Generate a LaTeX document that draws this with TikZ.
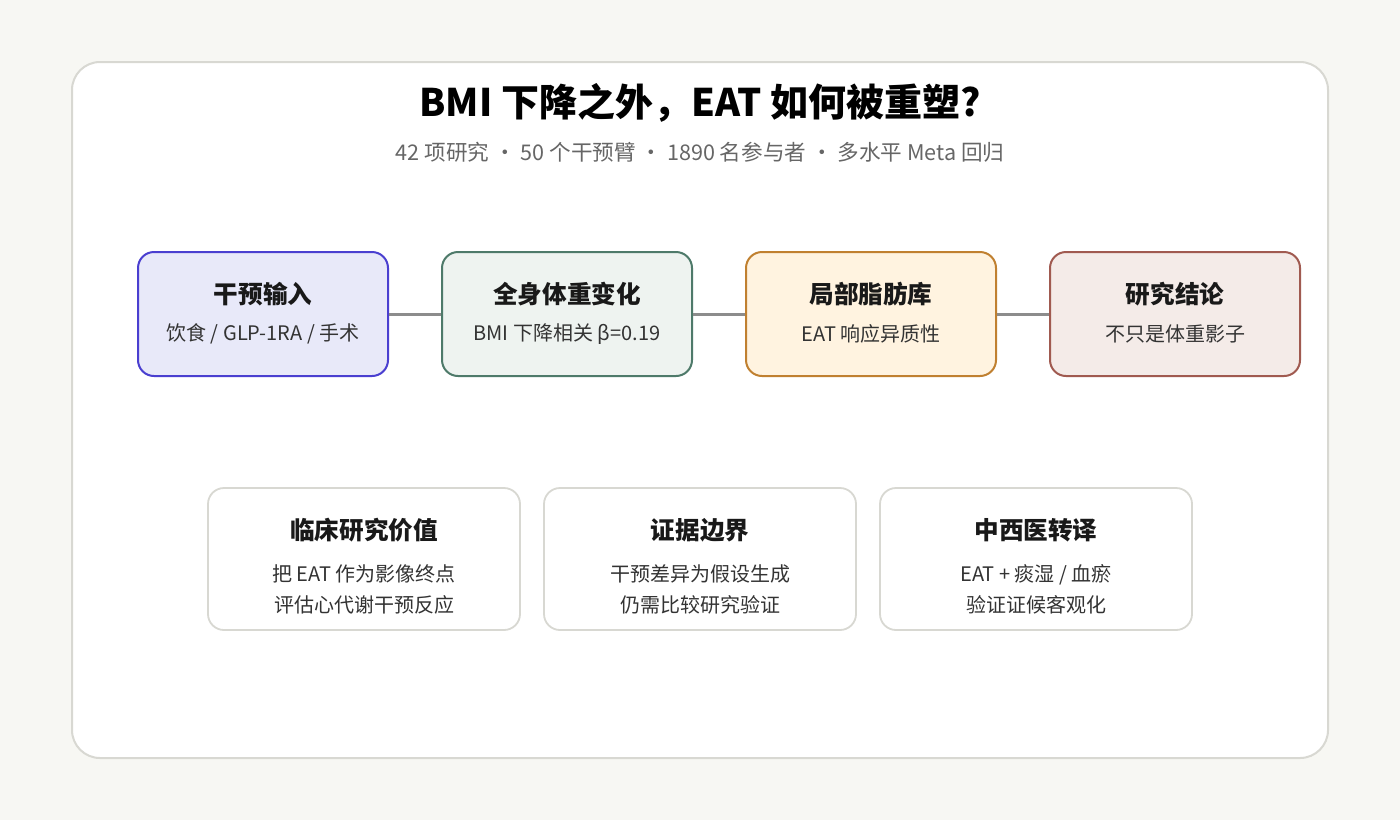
\documentclass[tikz,border=0pt]{standalone}
\usepackage{fontspec}
\setmainfont{Noto Sans CJK SC}
\usetikzlibrary{positioning}
\definecolor{bgc}{HTML}{F7F7F3}
\definecolor{cardline}{HTML}{D8D8D2}
\definecolor{subc}{HTML}{666666}
\definecolor{txtc}{HTML}{333333}
\definecolor{conc}{HTML}{8C8C8C}
\definecolor{fa}{HTML}{E8E9F9}\definecolor{da}{HTML}{4A3FD0}
\definecolor{fb}{HTML}{EEF3F0}\definecolor{db}{HTML}{4E7A6A}
\definecolor{fc}{HTML}{FFF3E0}\definecolor{dc}{HTML}{C08030}
\definecolor{fd}{HTML}{F4EBE8}\definecolor{dd}{HTML}{A05A50}
\begin{document}
\begin{tikzpicture}[x=0.5pt,y=-0.5pt,
  step box/.style={draw,line width=1pt,rounded corners=8pt,minimum width=125pt,minimum height=62pt},
  note box/.style={draw=cardline,fill=white,line width=0.9pt,rounded corners=8pt,minimum width=156pt,minimum height=71pt},
  head/.style={font=\fontsize{12.3}{14}\selectfont\bfseries,text=black!90},
  body/.style={font=\fontsize{10}{15.5}\selectfont,text=txtc,align=center},
  link/.style={draw=conc,line width=1.5pt}]
\fill[bgc] (0,0) rectangle (1400,820);
\draw[cardline,fill=white,line width=1pt,rounded corners=14pt] (72,62) rectangle (1328,758);
\node[font=\fontsize{19}{22}\selectfont\bfseries] (title) at (700,103) {BMI 下降之外，EAT 如何被重塑?};
\node[font=\fontsize{10.8}{13}\selectfont,text=subc] (sub) at (700,152) {42 项研究 · 50 个干预臂 · 1890 名参与者 · 多水平 Meta 回归};
% top row
\node[step box,fill=fa,draw=da] (input) at (263,314) {};
\node[step box,fill=fb,draw=db] (weight) at (567,314) {};
\node[step box,fill=fc,draw=dc] (depot) at (871,314) {};
\node[step box,fill=fd,draw=dd] (concl) at (1175,314) {};
\draw[link] (input) -- (weight);
\draw[link] (weight) -- (depot);
\draw[link] (depot) -- (concl);
\node[head] at (263,294) {干预输入};
\node[body] at (263,334) {饮食 / GLP-1RA / 手术};
\node[head] at (567,294) {全身体重变化};
\node[body] at (567,334) {BMI 下降相关 β=0.19};
\node[head] at (871,294) {局部脂肪库};
\node[body] at (871,334) {EAT 响应异质性};
\node[head] at (1175,294) {研究结论};
\node[body] at (1175,334) {不只是体重影子};
% bottom row
\node[note box] (clin) at (364,559) {};
\node[note box] (evid) at (700,559) {};
\node[note box] (tcm) at (1036,559) {};
\node[head] at (364,530) {临床研究价值};
\node[body] at (364,589) {把 EAT 作为影像终点\\评估心代谢干预反应};
\node[head] at (700,530) {证据边界};
\node[body] at (700,589) {干预差异为假设生成\\仍需比较研究验证};
\node[head] at (1036,530) {中西医转译};
\node[body] at (1036,589) {EAT + 痰湿 / 血瘀\\验证证候客观化};
\end{tikzpicture}
\end{document}
